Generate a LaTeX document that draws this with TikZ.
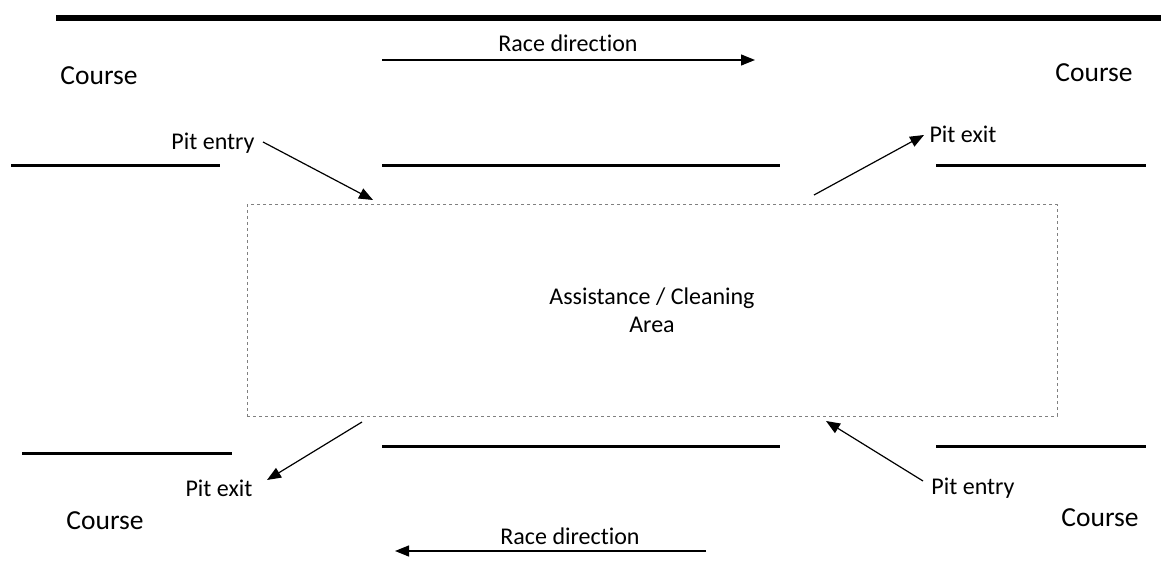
\documentclass[tikz,border=0pt]{standalone}
\usepackage{fontspec}
\setmainfont[Ligatures=NoCommon]{Carlito}
\usetikzlibrary{arrows.meta}

\begin{document}
\begin{tikzpicture}[line cap=butt,line join=round,>={Triangle[length=14pt,width=11pt]},x=1pt,y=-1pt,
  lbl/.style={font=\fontsize{24}{28}\selectfont,inner sep=0pt},
  course/.style={font=\fontsize{27.5}{32}\selectfont,inner sep=0pt},
  edge/.style={line width=3pt},
  pointer/.style={->,line width=1.2pt}]
\useasboundingbox (0,0) rectangle (1161,577);
\draw [line width=6pt] (56,18)-- (1161,18);
% track edges
\draw [edge] (11,166)-- (220,166);
\draw [edge] (382,166)-- (780,166);
\draw [edge] (936,166)-- (1146,166);
\draw [edge] (22,453)-- (232,453);
\draw [edge] (382,446)-- (780,446);
\draw [edge] (936,446)-- (1146,446);
% pit area
\node (area) [draw=gray,dashed,line width=1pt,minimum width=810pt,minimum height=211pt,
  align=center,lbl] at (652,310.5) {Assistance / Cleaning\\Area};
\node (c1) [course] at (99,76) {Course};
\node (c2) [course] at (1094,73) {Course};
\node (c3) [course] at (105,521) {Course};
\node (c4) [course] at (1100,518) {Course};
\node (rd1) [lbl] at (568,43) {Race direction};
\node (rd2) [lbl] at (570,536) {Race direction};
\node (en1) [lbl] at (213,143) {Pit entry};
\node (ex1) [lbl] at (963,134) {Pit exit};
\node (ex2) [lbl] at (219,488) {Pit exit};
\node (en2) [lbl] at (973,488) {Pit entry};
\coordinate (a1) at (382,60);
\coordinate (b1) at (755,60);
\coordinate (a2) at (706,551);
\coordinate (b2) at (395,551);
\coordinate (s1) at (263,142);
\coordinate (p1) at (373,200);
\coordinate (p2) at (814,195);
\coordinate (t2) at (924,135);
\coordinate (p3) at (362,422);
\coordinate (t3) at (267,480);
\coordinate (s4) at (923,481);
\coordinate (p4) at (826,421);
\draw [pointer] (a1) -- (b1);
\draw [pointer] (a2) -- (b2);
\draw [pointer] (s1) -- (p1);
\draw [pointer] (p2) -- (t2);
\draw [pointer] (p3) -- (t3);
\draw [pointer] (s4) -- (p4);
\end{tikzpicture}
\end{document}
